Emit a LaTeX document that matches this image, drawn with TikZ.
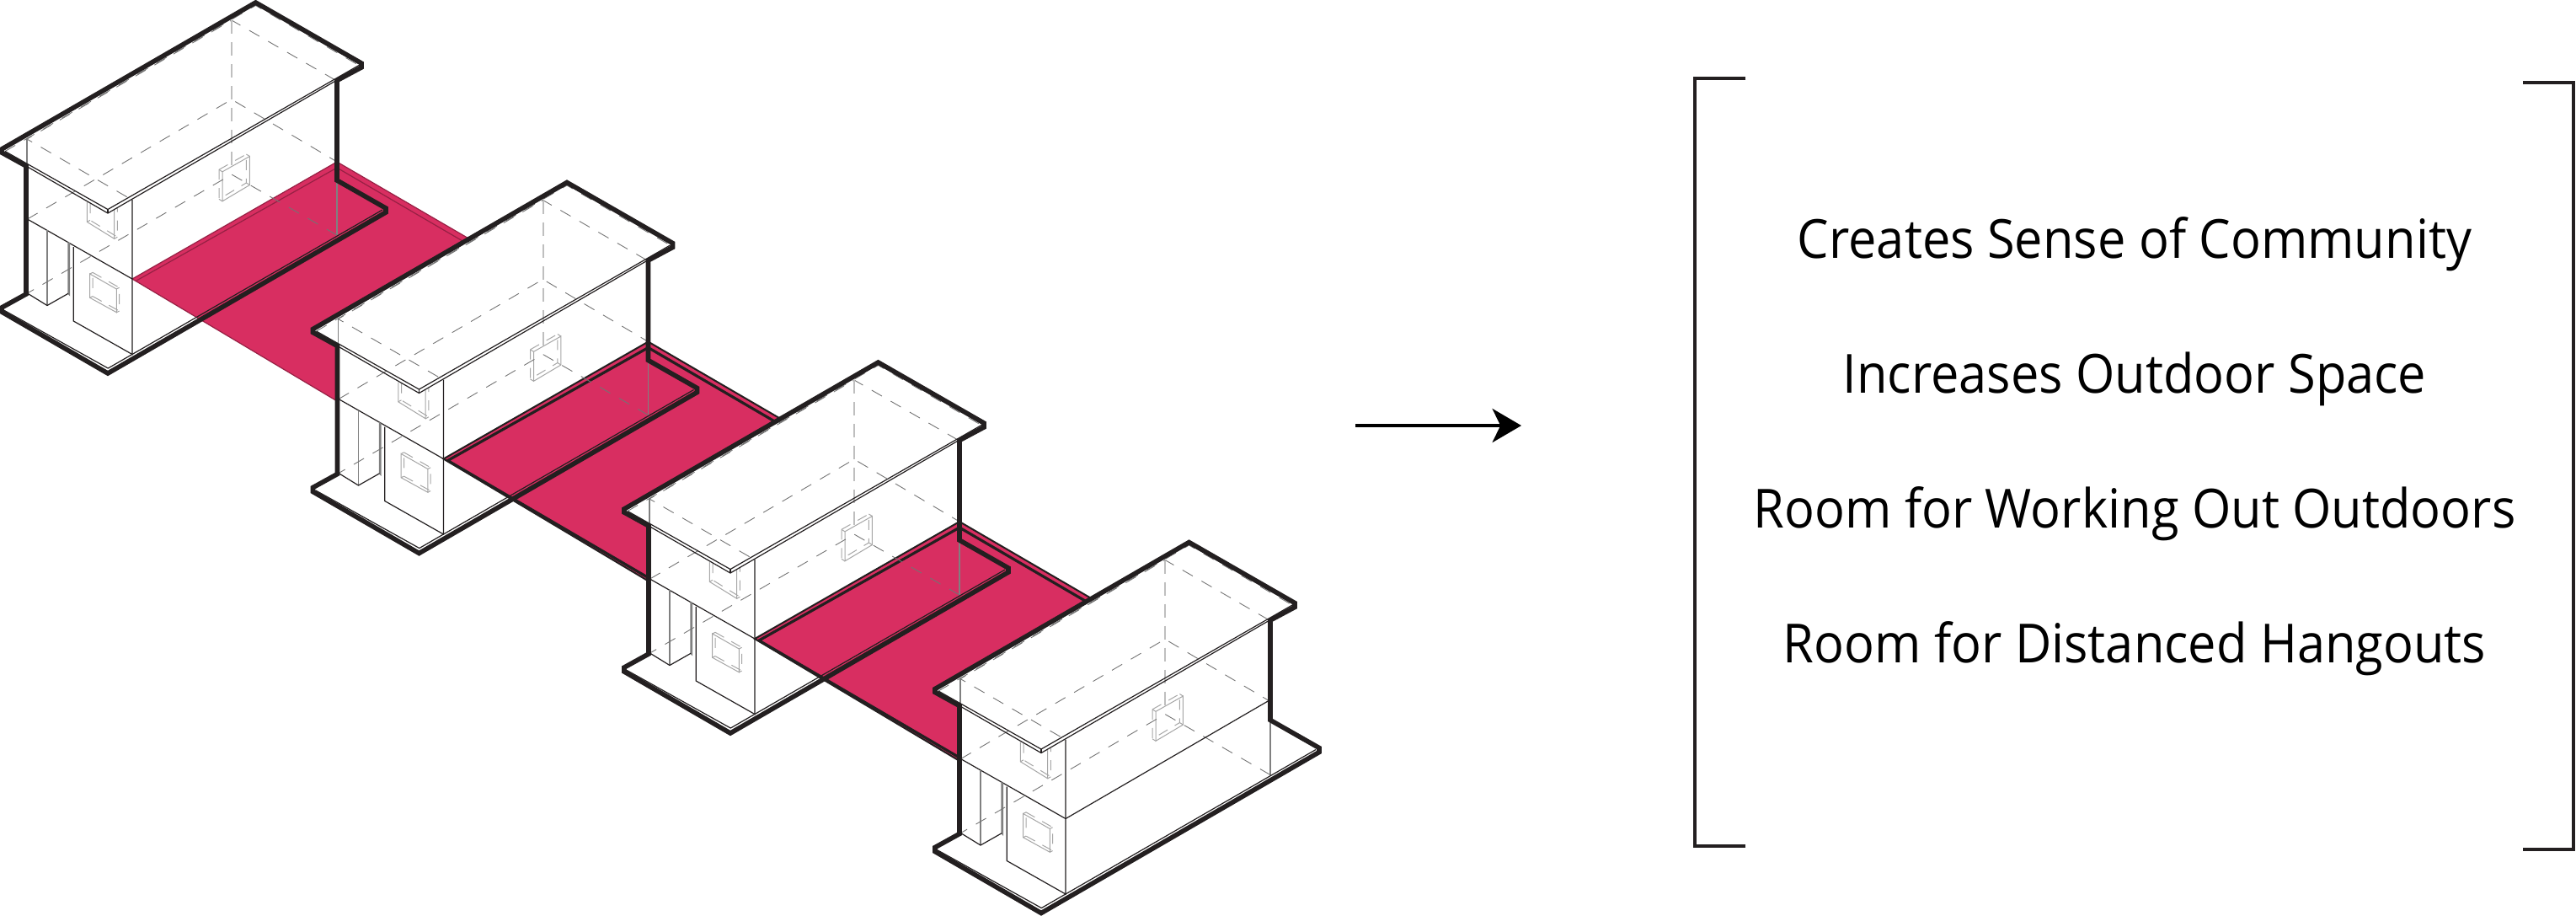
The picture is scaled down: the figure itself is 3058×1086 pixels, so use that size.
\documentclass[tikz,border=0pt]{standalone}
\usepackage{fontspec}
\usetikzlibrary{arrows.meta}
\setmainfont[FakeStretch=0.93]{Open Sans}
\definecolor{deck}{RGB}{216,46,97}
\definecolor{ink}{RGB}{35,31,32}
\tikzset{
  heavy/.style={draw=ink,line width=1.4pt,line join=miter},
  fine/.style={draw=ink,line width=0.3pt},
  faint/.style={draw=gray,line width=0.3pt},
  pane/.style={draw=gray!70,line width=0.25pt},
  panehidden/.style={draw=gray!70,line width=0.25pt,dash pattern=on 3pt off 2.5pt},
  hidden/.style={draw=gray!90!black,line width=0.22pt,dash pattern=on 3.5pt off 3pt},
  core/.style={draw=gray!50,line width=0.5pt,dash pattern=on 4pt off 2.5pt},
  deckedge/.style={draw=deck!70!black,line width=0.3pt},
  deckline/.style={draw=ink,line width=0.5pt},
  deckinner/.style={draw=ink,line width=0.8pt},
  note/.style={font=\fontsize{16}{20}\selectfont,text=black,inner sep=0pt,anchor=base},
}
% one unit is one pixel of the reference
\newcommand{\houseshell}{
  \fill[white] (2,179) -- (303.5,3) -- (429,77) -- (400,95) -- (400,214) -- (458,249)
    -- (128,443) -- (2,368) -- (31,349) -- (31,197) -- cycle;
}
\newcommand{\housewindow}[5]{
  \draw[pane] #1 -- #2 -- #3 -- #4 -- cycle;
  \draw[panehidden,shift={#5}] #1 -- #2 -- #3 -- #4 -- cycle;
  \foreach \corner in {#1,#2,#3,#4}
    \draw[pane] \corner -- ++#5;
}
\newcommand{\deckfill}{
  \fill[deck] (157,331) -- (400,192) -- (644,334) -- (401,476.5) -- cycle;
}
\newcommand{\houselines}{
  % body
  \draw[fine] (32.5,260) -- (157,331);
  \draw[fine] (157,237) -- (157,420.5) -- (87.3,381) -- (87.3,293);
  \draw[faint] (82.5,288) -- (82.5,350) -- (81,348.3) -- (81,287);
  \draw[faint,line width=0.45pt] (56,273) -- (56,362.5);
  \draw[fine] (32.5,348) -- (56,362.5) -- (81,348.3);
  \draw[faint] (400,214) -- (400,279);
  % windows
  \housewindow{(106.7,325)}{(138.3,343)}{(138.3,370.7)}{(106.7,353.3)}{(3.3,-1.7)}
  \housewindow{(264,203.8)}{(296.4,185.5)}{(296.4,219.5)}{(264,238.8)}{(-4,-2.5)}
  \draw[pane] (103.3,240) -- (103.3,263.3) -- (135.7,283.3) -- (135.7,249);
  \draw[panehidden] (107,241) -- (107,261.3) -- (139.4,281.3) -- (139.4,247);
  \draw[pane] (103.3,263.3) -- (107,261.3) (135.7,283.3) -- (139.4,281.3);
  % hidden structure
  \draw[hidden] (398,95) -- (275,24) -- (32,165) -- (153,235);
  \draw[hidden] (32.5,260) -- (275,118) -- (400,192);
  \draw[hidden] (400,279) -- (275,207) -- (32.5,348);
  \draw[core] (275,24) -- (275,200);
  \draw[faint] (32,165) -- (32,197);
  % roof and floor edges
  \draw[hidden] (6,179.5) -- (303.5,6.5) -- (426,77.5);
  \draw[fine] (6,179.5) -- (128,248.5) -- (426,77.5);
  \draw[fine] (31,197) -- (128,253) -- (400,95);
  \draw[fine] (128,248.5) -- (128,253);
  \draw[fine] (5,368.3) -- (128.3,437) -- (454,249);
  % outline
  \draw[heavy] (31,197) -- (2,181) -- (2,177) -- (303.5,3) -- (429,75) -- (429,80) -- (400,95.5)
    -- (400,214) -- (458,247) -- (458,252) -- (128,443) -- (2,370) -- (2,365) -- (31,349) -- cycle;
}
\begin{document}
\begin{tikzpicture}[x=0.25pt,y=-0.25pt]
\useasboundingbox (0,0) rectangle (3058,1086);

% first house and deck
\begin{scope}
  \houseshell
  \deckfill
  \draw[deckedge] (401,476.5) -- (157,331) -- (400,192) -- (644,334);
  \draw[deckedge] (162,333) -- (400,199) -- (640,339);
  \houselines
\end{scope}

% second house and deck
\begin{scope}[shift={(369.5,213.5)}]
  \houseshell
  \deckfill
  \draw[deckline] (401,476.5) -- (157,331) -- (400,192) -- (644,334);
  \draw[deckinner] (400,472) -- (162,333) -- (400,199) -- (640,339);
  \houselines
\end{scope}

% third house and deck
\begin{scope}[shift={(739,427)}]
  \houseshell
  \deckfill
  \draw[deckline] (401,476.5) -- (157,331) -- (400,192) -- (644,334);
  \draw[deckinner] (400,472) -- (162,333) -- (400,199) -- (640,339);
  \houselines
\end{scope}

% last house
\begin{scope}[shift={(1108,640.5)}]
  \houseshell
  \houselines
  \draw[fine] (157,331) -- (398,191);
\end{scope}

% arrow
\coordinate (arrowfrom) at (1609,505);
\coordinate (arrowto) at (1806,505);
\draw[-{Stealth[length=8.6pt,width=10pt,inset=2.4pt]},black,line width=1pt] (arrowfrom) -- (arrowto);

% brackets
\draw[ink,line width=0.85pt] (2072,93) -- (2012,93) -- (2012,1004) -- (2072,1004);
\draw[ink,line width=0.85pt] (2995,98) -- (3055,98) -- (3055,1008) -- (2995,1008);

% list
\node[note] (community) at (2534,306) {Creates Sense of Community};
\node[note] (outdoor) at (2534,466) {Increases Outdoor Space};
\node[note] (working) at (2534,626) {Room for Working Out Outdoors};
\node[note] (hangouts) at (2534,786) {Room for Distanced Hangouts};
\end{tikzpicture}
\end{document}
